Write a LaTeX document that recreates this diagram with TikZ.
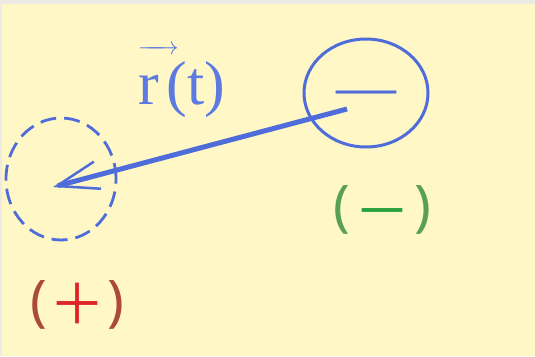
\documentclass[tikz,border=0pt]{standalone}
\usepackage{amsmath}
\usepackage{fontspec}
\setmainfont{Liberation Serif}
\newfontfamily\cjk{Noto Sans CJK SC}
\newfontfamily\parenfont{Noto Sans}
\usetikzlibrary{shapes.geometric, arrows.meta, positioning, calc}
\definecolor{bgyellow}{RGB}{255,247,198}
\definecolor{framegrey}{RGB}{236,234,226}
\definecolor{chargeblue}{RGB}{78,108,218}
\definecolor{labelblue}{RGB}{92,122,226}
\definecolor{parengreen}{RGB}{88,160,88}
\definecolor{signgreen}{RGB}{40,160,60}
\definecolor{parenred}{RGB}{172,74,54}
\definecolor{signred}{RGB}{222,38,40}

\begin{document}
\begin{tikzpicture}[
    x=1pt, y=-1pt,
    charge/.style={ellipse, draw=chargeblue, inner sep=0pt},
    sign/.style={inner sep=0pt, font=\parenfont\fontsize{56}{60}\selectfont},
    >=Latex
]
    \useasboundingbox (0,0) rectangle (535,356);
    \fill[framegrey] (0,0) rectangle (535,356);
    \fill[bgyellow] (2,4) rectangle (535,356);

    % the two positions of the charge
    \node[charge, line width=3pt, minimum width=124pt, minimum height=108pt,
          text=chargeblue, font=\fontsize{60}{64}\selectfont] (neg) at (366,93)
          {\raisebox{-13pt}[0pt][0pt]{—}};
    \node[charge, line width=2.8pt, dash pattern=on 16pt off 8pt,
          minimum width=110pt, minimum height=122pt] (pos) at (61,179) {};

    \coordinate (rtail) at (347,109);
    \coordinate (rtip) at (53,187);
    \draw[chargeblue, line width=5pt,
          -{Straight Barb[length=42pt, width=28pt, line width=2.5pt]}] (rtail) -- (rtip);

    \node[anchor=base west, inner sep=0pt, text=labelblue,
          font=\fontsize{62}{66}\selectfont] (rlabel) at (138,104)
          {$\overrightarrow{\rule{0pt}{50pt}\text{r}\hspace{20pt}}\hspace{-12pt}$(t)};

    % sign labels
    \node[sign, text=parengreen] (neglabel) at (382,210)
          {(\hspace{4pt}\textcolor{signgreen}{\cjk\raisebox{-6pt}[0pt][0pt]{－}}\hspace{4pt})};
    \node[sign, text=parenred] (poslabel) at (77,305)
          {(\hspace{2pt}\textcolor{signred}{\cjk\raisebox{-4pt}[0pt][0pt]{＋}}\hspace{2pt})};
\end{tikzpicture}
\end{document}
